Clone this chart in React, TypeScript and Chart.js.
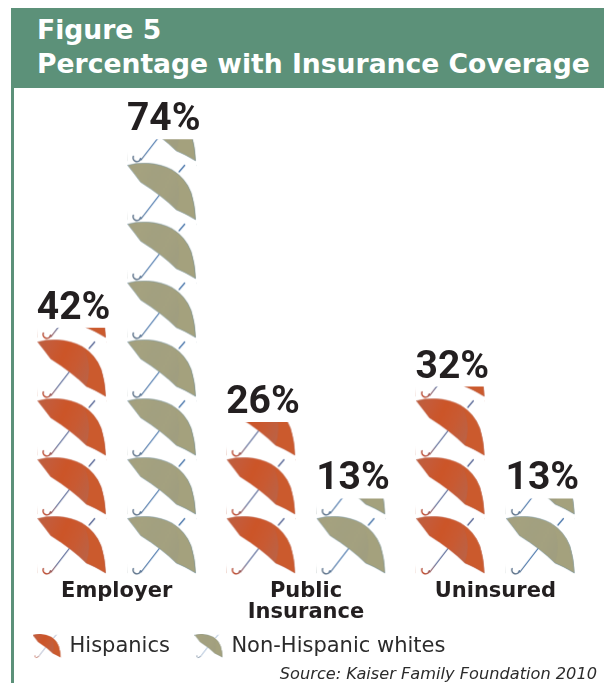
import { useEffect, useRef } from "react";
import { Chart, registerables } from "chart.js";

Chart.register(...registerables);

// Coverage figures, in percent
const categories: (string | string[])[] = ["Employer", ["Public", "Insurance"], "Uninsured"];
const hispanics = [42, 26, 32];
const nonHispanicWhites = [74, 13, 13];
const seriesNames = ["Hispanics", "Non-Hispanic whites"];
const titleLines = ["Figure 5", "Percentage with Insurance Coverage"];
const sourceNote = "Source: Kaiser Family Foundation 2010";

const INK = "#231F20";
const BAND = "#5C9179";
const PERCENT_PER_UMBRELLA = 10;
const TILE_W = 69;
const TILE_H = 59;

type Palette = {
  base: string[];
  side: string;
  edge: string;
  shaftTop: string;
  shaftEnd: string;
};

const redPalette: Palette = {
  base: ["#BC6041", "#C65B38", "#CC5528", "#C95A32", "#BD6143"],
  side: "#CB5A2D",
  edge: "rgba(190,110,90,0.8)",
  shaftTop: "#4F5F90",
  shaftEnd: "#BE4526",
};

const sagePalette: Palette = {
  base: ["#A39F7F", "#A5A27F", "#A2A080", "#A4A17F", "#A09E80"],
  side: "#A4A17D",
  edge: "rgba(110,145,165,0.8)",
  shaftTop: "#3F6EA6",
  shaftEnd: "#5A6E84",
};

// One umbrella laid out in a 69 x 59 cell
function paintUmbrella(ctx: CanvasRenderingContext2D, p: Palette) {
  const canopy = new Path2D();
  canopy.moveTo(0.5, 2.5);
  canopy.quadraticCurveTo(10, -0.5, 20, 0.3);
  canopy.quadraticCurveTo(35, 1.5, 45, 7);
  canopy.quadraticCurveTo(59, 16, 64, 30);
  canopy.quadraticCurveTo(68, 43, 68.5, 57);
  canopy.quadraticCurveTo(57, 50, 49, 47);
  canopy.quadraticCurveTo(35, 33, 13.5, 19.5);
  canopy.quadraticCurveTo(8, 12, 0.5, 2.5);

  ctx.lineCap = "round";

  // shaft above the canopy and below it, with the crook
  const shaft = ctx.createLinearGradient(33, 32, 8, 58);
  shaft.addColorStop(0, p.shaftTop);
  shaft.addColorStop(0.55, p.shaftTop);
  shaft.addColorStop(1, p.shaftEnd);
  ctx.strokeStyle = shaft;
  ctx.lineWidth = 1.2;
  ctx.beginPath();
  ctx.moveTo(32.5, 32);
  ctx.lineTo(14, 56);
  ctx.stroke();
  ctx.lineWidth = 1.4;
  ctx.beginPath();
  ctx.arc(9.7, 54, 3.8, 0.2, Math.PI + 0.4);
  ctx.stroke();
  ctx.lineWidth = 1.2;
  ctx.strokeStyle = p.shaftTop;
  ctx.beginPath();
  ctx.moveTo(52, 9);
  ctx.lineTo(57.5, 2.5);
  ctx.stroke();

  const g = ctx.createLinearGradient(0, 0, 55, 25);
  p.base.forEach((c, i) => g.addColorStop(i / (p.base.length - 1), c));
  ctx.fillStyle = g;
  ctx.fill(canopy);

  // right-hand panel, split off along the rib
  ctx.save();
  ctx.clip(canopy);
  ctx.fillStyle = p.side;
  ctx.beginPath();
  ctx.moveTo(46, 6);
  ctx.quadraticCurveTo(56, 28, 49, 47);
  ctx.lineTo(70, 60);
  ctx.lineTo(70, 0);
  ctx.closePath();
  ctx.fill();
  ctx.restore();

  ctx.strokeStyle = p.edge;
  ctx.lineWidth = 0.6;
  ctx.stroke(canopy);
}

function makeCell(p: Palette, scale: number, w: number, h: number) {
  const c = document.createElement("canvas");
  c.width = w;
  c.height = h;
  const ctx = c.getContext("2d")!;
  ctx.scale(scale, scale);
  paintUmbrella(ctx, p);
  return c;
}

export default function App() {
  const ref = useRef<HTMLCanvasElement>(null);

  useEffect(() => {
    const cells = [redPalette, sagePalette].map((p) => makeCell(p, 1, TILE_W, TILE_H));
    const icons = [redPalette, sagePalette].map((p) => makeCell(p, 0.41, 29, 25));

    // Fills every bar with a stack of umbrellas, counted up from the baseline
    const umbrellaFill = {
      id: "umbrellaFill",
      beforeDatasetsDraw(chart: Chart) {
        const y = chart.scales.y;
        const pitch = y.getPixelForValue(0) - y.getPixelForValue(PERCENT_PER_UMBRELLA);
        chart.data.datasets.forEach((_, di) => {
          chart.getDatasetMeta(di).data.forEach((el: any) => {
            const pattern = chart.ctx.createPattern(cells[di], "repeat")!;
            const m = new DOMMatrix()
              .translate(el.x - el.width / 2, el.base - pitch)
              .scale(1, pitch / TILE_H);
            pattern.setTransform(m);
            el.options = { ...el.options, backgroundColor: pattern };
          });
        });
      },
    };

    // The two-line category label runs past the axis box into the legend's padding
    const tallAxisLabels = {
      id: "tallAxisLabels",
      afterLayout(chart: Chart) {
        const x = chart.scales.x;
        x.bottom = x.top + 52;
      },
    };

    // Percent figures above each bar
    const valueLabels = {
      id: "valueLabels",
      afterDatasetsDraw(chart: Chart) {
        const ctx = chart.ctx;
        ctx.save();
        ctx.font = "700 39px Roboto";
        ctx.fillStyle = INK;
        ctx.textAlign = "center";
        ctx.textBaseline = "alphabetic";
        chart.data.datasets.forEach((ds, di) => {
          chart.getDatasetMeta(di).data.forEach((el: any, i: number) => {
            ctx.fillText(`${ds.data[i]}%`, el.x + 2, el.y - 9);
          });
        });
        ctx.restore();
      },
    };

    const chart = new Chart(ref.current!, {
      type: "bar",
      data: {
        labels: categories as any,
        datasets: [
          { label: seriesNames[0], data: hispanics, backgroundColor: () => "rgba(0,0,0,0)" },
          { label: seriesNames[1], data: nonHispanicWhites, backgroundColor: () => "rgba(0,0,0,0)" },
        ],
      },
      plugins: [tallAxisLabels, umbrellaFill, valueLabels],
      options: {
        animation: false,
        responsive: false,
        devicePixelRatio: 1,
        layout: { padding: { top: 88, left: 8, right: 14, bottom: 16 } },
        datasets: { bar: { categoryPercentage: 0.951, barPercentage: 0.767 } },
        scales: {
          x: {
            grid: { display: false, drawTicks: false },
            border: { display: false },
            afterFit: (s: any) => {
              s.height = 34;
            },
            ticks: {
              autoSkip: false,
              maxRotation: 0,
              padding: 6,
              color: INK,
              font: { family: "'DejaVu Sans'", weight: "bold", size: 21, lineHeight: 1 },
            },
          },
          y: {
            min: 0,
            max: 82.7,
            grid: { display: false },
            border: { display: false },
            ticks: { display: false },
            afterFit: (s: any) => {
              s.width = 14;
            },
          },
        },
        plugins: {
          title: { display: false },
          tooltip: { enabled: false },
          legend: {
            display: true,
            position: "bottom",
            align: "start",
            labels: {
              usePointStyle: true,
              pointStyleWidth: 24,
              padding: 27,
              color: "#2B2B2B",
              font: { family: "'DejaVu Sans'", size: 21 },
              generateLabels: () =>
                seriesNames.map((text, i) => ({
                  text,
                  pointStyle: icons[i],
                  datasetIndex: i,
                  fontColor: "#2B2B2B",
                  hidden: false,
                  lineWidth: 0,
                })),
            },
          },
        },
      },
    } as any);

    return () => chart.destroy();
  }, []);

  return (
    <div style={{ position: "absolute", left: 0, top: 0, width: 604, height: 683, overflow: "hidden", background: "#fff" }}>
      <canvas ref={ref} width={604} height={683} style={{ position: "absolute", left: 0, top: 0, display: "block" }} />
      <div style={{ position: "absolute", left: 11, top: 8, width: 593, height: 80, background: BAND }} />
      <div style={{ position: "absolute", left: 11, top: 88, width: 3, height: 595, background: BAND }} />
      <div
        style={{
          position: "absolute",
          left: 37,
          top: 13,
          color: "#fff",
          font: "bold 26.6px/34px 'DejaVu Sans'",
          whiteSpace: "nowrap",
        }}
      >
        {titleLines.map((t) => (
          <div key={t}>{t}</div>
        ))}
      </div>
      <div
        style={{
          position: "absolute",
          right: 7,
          top: 664,
          color: "#2B2B2B",
          font: "italic 16.2px/19px 'DejaVu Sans'",
          whiteSpace: "nowrap",
        }}
      >
        {sourceNote}
      </div>
    </div>
  );
}
